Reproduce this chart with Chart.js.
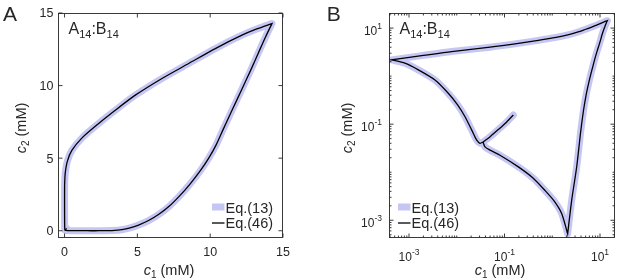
<!DOCTYPE html>
<html>
<head>
<meta charset="utf-8">
<script src="https://cdn.jsdelivr.net/npm/chart.js@4"></script>
<style>
  html, body { margin: 0; padding: 0; background: #fff; }
  #wrap { position: relative; width: 617px; height: 280px; }
  canvas { position: absolute; top: 0; }
</style>
</head>
<body>
<div id="wrap">
  <canvas id="chartA" width="310" height="280" style="left:0"></canvas>
  <canvas id="chartB" width="307" height="280" style="left:310px"></canvas>
</div>
<script>
// trajectory (mM): branch, lower arc, right arc, top arc, upper-left arc
// corner points are listed twice so the curve keeps a sharp tip there
var c1 = [0.153, 0.11, 0.075, 0.05, 0.0355, 0.0355,
  0.039, 0.0497, 0.0805, 0.195, 0.40, 0.70, 1.1, 1.58, 2.1, 2.1,
  2.55, 3.25, 3.94, 4.5, 5.08, 5.8, 6.5, 7.2, 7.9, 8.6, 9.3, 9.9, 10.4, 10.9, 11.5, 12.2, 12.8, 13.33, 13.8, 14.24, 14.24,
  13.2, 12.18, 10.35, 8.52, 6.69, 4.86, 3.48, 2.11, 1.2, 0.51, 0.195, 0.05, 0.0078, 0.002, 0.00043, 0.00043,
  0.00082, 0.00157, 0.0035, 0.0065, 0.0105, 0.0149, 0.0206, 0.026, 0.0307, 0.0355];
var c2 = [0.155, 0.11, 0.078, 0.055, 0.0423, 0.0423,
  0.0337, 0.0288, 0.0226, 0.0129, 0.0075, 0.0042, 0.0025, 0.00137, 0.00052, 0.00052,
  0.0026, 0.013, 0.07, 0.19, 0.39, 0.72, 1.15, 1.7, 2.4, 3.2, 4.1, 5.0, 5.9, 7.0, 8.3, 9.8, 11.1, 12.3, 13.35, 14.27, 14.27,
  13.9, 13.47, 12.55, 11.52, 10.49, 9.34, 8.3, 7.2, 6.4, 5.55, 4.8, 4.0, 3.25, 2.7, 2.18, 2.18,
  1.86, 1.35, 0.83, 0.45, 0.25, 0.143, 0.075, 0.047, 0.04, 0.0423];

var seriesLabels = ['Eq.(13)', 'Eq.(46)'];
var linTicks = [0, 5, 10, 15];
var logTickExp = [-3, -1, 1];

var INK = '#262626';
var BLUE = 'rgb(198,198,244)';

function font(size, italic) {
  return (italic ? 'italic ' : '') + size + 'px "Liberation Sans", Arial, sans-serif';
}

function drawRuns(ctx, runs, x, y, align) {
  var w = 0;
  runs.forEach(function (r) { ctx.font = font(r.s, r.i); w += ctx.measureText(r.t).width; });
  var cx = align === 'center' ? x - w / 2 : align === 'right' ? x - w : x;
  runs.forEach(function (r) {
    ctx.font = font(r.s, r.i);
    ctx.fillText(r.t, cx, y + (r.dy || 0));
    cx += ctx.measureText(r.t).width;
  });
}

function decor(opt) {
  return {
    id: 'decor',
    afterDraw: function (chart) {
      var ctx = chart.ctx, a = chart.chartArea, xs = chart.scales.x, ys = chart.scales.y;
      ctx.save();
      ctx.strokeStyle = INK;
      ctx.fillStyle = INK;
      ctx.lineWidth = 0.9;
      ctx.textAlign = 'left';
      ctx.textBaseline = 'alphabetic';

      var L = a.left + 0.5, R = a.right - 0.5, T = a.top + 0.5, B = a.bottom - 0.5;
      ctx.strokeRect(L, T, R - L, B - T);

      function xTick(v, len) {
        var p = xs.getPixelForValue(v);
        ctx.beginPath();
        ctx.moveTo(p, B); ctx.lineTo(p, B - len);
        ctx.moveTo(p, T); ctx.lineTo(p, T + len);
        ctx.stroke();
      }
      function yTick(v, len) {
        var p = ys.getPixelForValue(v);
        ctx.beginPath();
        ctx.moveTo(L, p); ctx.lineTo(L + len, p);
        ctx.moveTo(R, p); ctx.lineTo(R - len, p);
        ctx.stroke();
      }

      if (!opt.log) {
        linTicks.forEach(function (v) {
          xTick(v, 4); yTick(v, 4);
          drawRuns(ctx, [{ t: String(v), s: 12.5 }], xs.getPixelForValue(v), 256, 'center');
          drawRuns(ctx, [{ t: String(v), s: 12.5 }], a.left - 4.5, ys.getPixelForValue(v) + 4.4, 'right');
        });
      } else {
        var major = logTickExp.map(function (e) { return Math.pow(10, e); });
        for (var e = -4; e <= 1; e++) {
          for (var k = 1; k <= 9; k++) {
            var v = k * Math.pow(10, e);
            if (logTickExp.indexOf(e) >= 0 && k === 1) continue;
            if (v >= xs.min && v <= xs.max) xTick(v, 2);
            if (v >= ys.min && v <= ys.max) yTick(v, 2);
          }
        }
        logTickExp.forEach(function (e, i) {
          var v = major[i];
          xTick(v, 4); yTick(v, 4);
          var runs = [{ t: '10', s: 12 }, { t: String(e), s: 8.5, dy: -6 }];
          drawRuns(ctx, runs, xs.getPixelForValue(v), 261, 'center');
          drawRuns(ctx, runs, a.left - 7, ys.getPixelForValue(v) + 7, 'right');
        });
      }

      // axis titles
      drawRuns(ctx, [{ t: 'c', s: 14.5, i: true }, { t: '1', s: 10, dy: 3 }, { t: ' (mM)', s: 14.5 }],
        opt.xTitleX, 274.5, 'center');
      ctx.save();
      ctx.translate(opt.yTitleX, 128);
      ctx.rotate(-Math.PI / 2);
      drawRuns(ctx, [{ t: 'c', s: 14.5, i: true }, { t: '2', s: 10, dy: 3 }, { t: ' (mM)', s: 14.5 }],
        0, 0, 'center');
      ctx.restore();

      // panel letter and label
      ctx.font = font(21);
      ctx.fillText(opt.letter, opt.letterX, 21);
      drawRuns(ctx, [{ t: 'A', s: 16 }, { t: '14', s: 11, dy: 3.5 }, { t: ':', s: 16 },
        { t: 'B', s: 16 }, { t: '14', s: 11, dy: 3.5 }], a.left + 10.5, 34, 'left');

      // legend
      var ds = chart.data.datasets;
      ctx.fillStyle = ds[0].borderColor;
      ctx.fillRect(opt.legX, 203.5, 12.5, 7);
      ctx.strokeStyle = ds[1].borderColor;
      ctx.lineWidth = 1.3;
      ctx.beginPath();
      ctx.moveTo(opt.legX, 223); ctx.lineTo(opt.legX + 12.5, 223);
      ctx.stroke();
      ctx.fillStyle = INK;
      drawRuns(ctx, [{ t: ds[0].label, s: 14.5 }], opt.legX + 13.5, 213, 'left');
      drawRuns(ctx, [{ t: ds[1].label, s: 14.5 }], opt.legX + 13.5, 227.5, 'left');
      ctx.restore();
    }
  };
}

function makeData() {
  var pts = c1.map(function (x, i) { return { x: x, y: c2[i] }; });
  return {
    datasets: [
      { label: seriesLabels[0], data: pts, borderColor: BLUE, borderWidth: 7, order: 1,
        showLine: true, pointRadius: 0, tension: 0.25, borderJoinStyle: 'round', borderCapStyle: 'round' },
      { label: seriesLabels[1], data: pts, borderColor: '#000', borderWidth: 1.3, order: 0,
        showLine: true, pointRadius: 0, tension: 0.25, borderJoinStyle: 'miter' }
    ]
  };
}

function baseOptions(xScale, yScale, pad) {
  return {
    responsive: false,
    animation: false,
    layout: { padding: pad },
    plugins: { legend: { display: false }, tooltip: { enabled: false } },
    scales: { x: xScale, y: yScale }
  };
}

new Chart(document.getElementById('chartA'), {
  type: 'scatter',
  data: makeData(),
  options: baseOptions(
    { type: 'linear', min: -0.45, max: 15, display: false },
    { type: 'linear', min: -0.5, max: 15, display: false },
    { left: 58, right: 27, top: 13, bottom: 42 }),
  plugins: [decor({ log: false, letter: 'A', letterX: 3, xTitleX: 169, yTitleX: 26, legX: 212 })]
});

new Chart(document.getElementById('chartB'), {
  type: 'scatter',
  data: makeData(),
  options: baseOptions(
    { type: 'logarithmic', min: 3.81e-4, max: 20.6, display: false },
    { type: 'logarithmic', min: 4.27e-4, max: 20.6, display: false },
    { left: 79, right: 2, top: 13, bottom: 42 }),
  plugins: [decor({ log: true, letter: 'B', letterX: 16.7, xTitleX: 190, yTitleX: 41.5, legX: 88 })]
});
</script>
</body>
</html>
